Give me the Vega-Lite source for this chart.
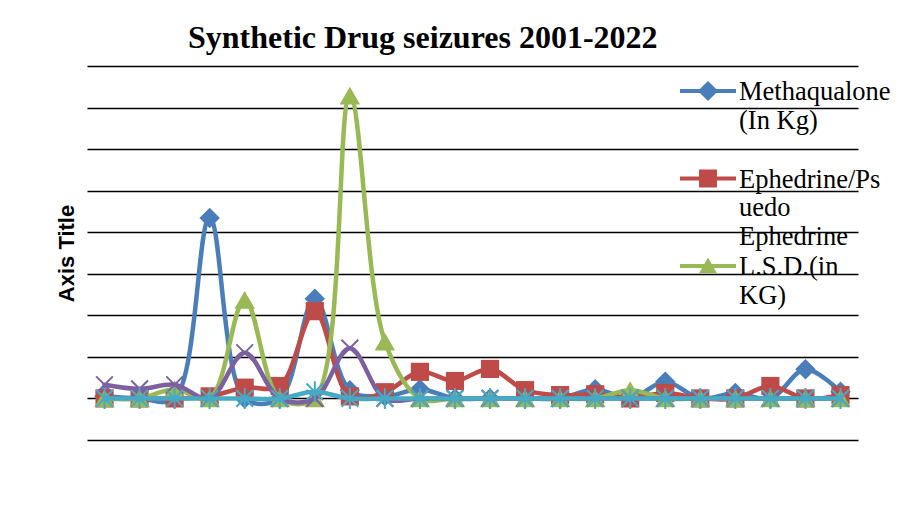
{
  "$schema": "https://vega.github.io/schema/vega-lite/v6.json",
  "width": 771,
  "height": 374,
  "autosize": {"type": "none"},
  "padding": {"left": 87, "top": 66, "right": 43, "bottom": 77},
  "background": "white",
  "title": {
    "text": "Synthetic Drug seizures 2001-2022",
    "font": "Liberation Serif",
    "fontSize": 32,
    "fontWeight": "bold",
    "color": "#000",
    "anchor": "start",
    "frame": "group",
    "dx": 101,
    "baseline": "alphabetic",
    "offset": -14
  },
  "data": {
    "values": [
      {"year": 2001, "series": "Methaqualone (In Kg)", "value": 0.05},
      {"year": 2002, "series": "Methaqualone (In Kg)", "value": 0},
      {"year": 2003, "series": "Methaqualone (In Kg)", "value": 0},
      {"year": 2004, "series": "Methaqualone (In Kg)", "value": 4.34},
      {"year": 2005, "series": "Methaqualone (In Kg)", "value": 0},
      {"year": 2006, "series": "Methaqualone (In Kg)", "value": 0},
      {"year": 2007, "series": "Methaqualone (In Kg)", "value": 2.4},
      {"year": 2008, "series": "Methaqualone (In Kg)", "value": 0.2},
      {"year": 2009, "series": "Methaqualone (In Kg)", "value": 0.05},
      {"year": 2010, "series": "Methaqualone (In Kg)", "value": 0.22},
      {"year": 2011, "series": "Methaqualone (In Kg)", "value": 0},
      {"year": 2012, "series": "Methaqualone (In Kg)", "value": 0},
      {"year": 2013, "series": "Methaqualone (In Kg)", "value": 0},
      {"year": 2014, "series": "Methaqualone (In Kg)", "value": 0},
      {"year": 2015, "series": "Methaqualone (In Kg)", "value": 0.22},
      {"year": 2016, "series": "Methaqualone (In Kg)", "value": 0},
      {"year": 2017, "series": "Methaqualone (In Kg)", "value": 0.4},
      {"year": 2018, "series": "Methaqualone (In Kg)", "value": 0},
      {"year": 2019, "series": "Methaqualone (In Kg)", "value": 0.13},
      {"year": 2020, "series": "Methaqualone (In Kg)", "value": 0},
      {"year": 2021, "series": "Methaqualone (In Kg)", "value": 0.7},
      {"year": 2022, "series": "Methaqualone (In Kg)", "value": 0.16},
      {"year": 2001, "series": "Ephedrine/Pseudo Ephedrine", "value": 0},
      {"year": 2002, "series": "Ephedrine/Pseudo Ephedrine", "value": 0},
      {"year": 2003, "series": "Ephedrine/Pseudo Ephedrine", "value": 0},
      {"year": 2004, "series": "Ephedrine/Pseudo Ephedrine", "value": 0.05},
      {"year": 2005, "series": "Ephedrine/Pseudo Ephedrine", "value": 0.26},
      {"year": 2006, "series": "Ephedrine/Pseudo Ephedrine", "value": 0.3},
      {"year": 2007, "series": "Ephedrine/Pseudo Ephedrine", "value": 2.1},
      {"year": 2008, "series": "Ephedrine/Pseudo Ephedrine", "value": 0.05},
      {"year": 2009, "series": "Ephedrine/Pseudo Ephedrine", "value": 0.15},
      {"year": 2010, "series": "Ephedrine/Pseudo Ephedrine", "value": 0.64},
      {"year": 2011, "series": "Ephedrine/Pseudo Ephedrine", "value": 0.42},
      {"year": 2012, "series": "Ephedrine/Pseudo Ephedrine", "value": 0.71},
      {"year": 2013, "series": "Ephedrine/Pseudo Ephedrine", "value": 0.2},
      {"year": 2014, "series": "Ephedrine/Pseudo Ephedrine", "value": 0.08},
      {"year": 2015, "series": "Ephedrine/Pseudo Ephedrine", "value": 0.1},
      {"year": 2016, "series": "Ephedrine/Pseudo Ephedrine", "value": 0},
      {"year": 2017, "series": "Ephedrine/Pseudo Ephedrine", "value": 0.13},
      {"year": 2018, "series": "Ephedrine/Pseudo Ephedrine", "value": 0},
      {"year": 2019, "series": "Ephedrine/Pseudo Ephedrine", "value": 0},
      {"year": 2020, "series": "Ephedrine/Pseudo Ephedrine", "value": 0.3},
      {"year": 2021, "series": "Ephedrine/Pseudo Ephedrine", "value": 0},
      {"year": 2022, "series": "Ephedrine/Pseudo Ephedrine", "value": 0.08},
      {"year": 2001, "series": "L.S.D.(in KG)", "value": 0},
      {"year": 2002, "series": "L.S.D.(in KG)", "value": 0},
      {"year": 2003, "series": "L.S.D.(in KG)", "value": 0.22},
      {"year": 2004, "series": "L.S.D.(in KG)", "value": 0},
      {"year": 2005, "series": "L.S.D.(in KG)", "value": 2.37},
      {"year": 2006, "series": "L.S.D.(in KG)", "value": 0},
      {"year": 2007, "series": "L.S.D.(in KG)", "value": 0},
      {"year": 2008, "series": "L.S.D.(in KG)", "value": 7.29},
      {"year": 2009, "series": "L.S.D.(in KG)", "value": 1.37},
      {"year": 2010, "series": "L.S.D.(in KG)", "value": 0},
      {"year": 2011, "series": "L.S.D.(in KG)", "value": 0},
      {"year": 2012, "series": "L.S.D.(in KG)", "value": 0},
      {"year": 2013, "series": "L.S.D.(in KG)", "value": 0},
      {"year": 2014, "series": "L.S.D.(in KG)", "value": 0},
      {"year": 2015, "series": "L.S.D.(in KG)", "value": 0},
      {"year": 2016, "series": "L.S.D.(in KG)", "value": 0.2},
      {"year": 2017, "series": "L.S.D.(in KG)", "value": 0},
      {"year": 2018, "series": "L.S.D.(in KG)", "value": 0},
      {"year": 2019, "series": "L.S.D.(in KG)", "value": 0},
      {"year": 2020, "series": "L.S.D.(in KG)", "value": 0},
      {"year": 2021, "series": "L.S.D.(in KG)", "value": 0},
      {"year": 2022, "series": "L.S.D.(in KG)", "value": 0},
      {"year": 2001, "series": "Amphetamine", "value": 0.33},
      {"year": 2002, "series": "Amphetamine", "value": 0.23},
      {"year": 2003, "series": "Amphetamine", "value": 0.33},
      {"year": 2004, "series": "Amphetamine", "value": 0},
      {"year": 2005, "series": "Amphetamine", "value": 1.1},
      {"year": 2006, "series": "Amphetamine", "value": 0},
      {"year": 2007, "series": "Amphetamine", "value": 0},
      {"year": 2008, "series": "Amphetamine", "value": 1.21},
      {"year": 2009, "series": "Amphetamine", "value": 0},
      {"year": 2010, "series": "Amphetamine", "value": 0},
      {"year": 2011, "series": "Amphetamine", "value": 0},
      {"year": 2012, "series": "Amphetamine", "value": 0},
      {"year": 2013, "series": "Amphetamine", "value": 0},
      {"year": 2014, "series": "Amphetamine", "value": 0},
      {"year": 2015, "series": "Amphetamine", "value": 0},
      {"year": 2016, "series": "Amphetamine", "value": 0},
      {"year": 2017, "series": "Amphetamine", "value": 0},
      {"year": 2018, "series": "Amphetamine", "value": 0},
      {"year": 2019, "series": "Amphetamine", "value": 0},
      {"year": 2020, "series": "Amphetamine", "value": 0},
      {"year": 2021, "series": "Amphetamine", "value": 0},
      {"year": 2022, "series": "Amphetamine", "value": 0},
      {"year": 2001, "series": "MDMA", "value": 0},
      {"year": 2002, "series": "MDMA", "value": 0},
      {"year": 2003, "series": "MDMA", "value": 0},
      {"year": 2004, "series": "MDMA", "value": 0},
      {"year": 2005, "series": "MDMA", "value": 0},
      {"year": 2006, "series": "MDMA", "value": 0},
      {"year": 2007, "series": "MDMA", "value": 0.16},
      {"year": 2008, "series": "MDMA", "value": 0},
      {"year": 2009, "series": "MDMA", "value": 0},
      {"year": 2010, "series": "MDMA", "value": 0},
      {"year": 2011, "series": "MDMA", "value": 0},
      {"year": 2012, "series": "MDMA", "value": 0},
      {"year": 2013, "series": "MDMA", "value": 0},
      {"year": 2014, "series": "MDMA", "value": 0},
      {"year": 2015, "series": "MDMA", "value": 0},
      {"year": 2016, "series": "MDMA", "value": 0},
      {"year": 2017, "series": "MDMA", "value": 0},
      {"year": 2018, "series": "MDMA", "value": 0},
      {"year": 2019, "series": "MDMA", "value": 0},
      {"year": 2020, "series": "MDMA", "value": 0},
      {"year": 2021, "series": "MDMA", "value": 0},
      {"year": 2022, "series": "MDMA", "value": 0}
    ]
  },
  "encoding": {
    "x": {"field": "year", "type": "ordinal", "scale": {"type": "point", "padding": 0.5}, "axis": null},
    "y": {
      "field": "value",
      "type": "quantitative",
      "scale": {"domain": [-1, 8], "nice": false, "zero": false},
      "axis": {
        "values": [-1, 0, 1, 2, 3, 4, 5, 6, 7, 8],
        "labels": false,
        "ticks": false,
        "domain": false,
        "grid": true,
        "gridColor": "#000000",
        "gridWidth": 1.6,
        "gridOpacity": 1,
        "title": "Axis Title",
        "titleFont": "Liberation Sans",
        "titleFontSize": 22,
        "titleFontWeight": "bold",
        "titleColor": "#000000",
        "titlePadding": 9
      }
    },
    "color": {
      "field": "series",
      "type": "nominal",
      "scale": {
        "domain": ["Methaqualone (In Kg)", "Ephedrine/Pseudo Ephedrine", "L.S.D.(in KG)", "Amphetamine", "MDMA"],
        "range": ["#4A7EBB", "#BE4B48", "#98B954", "#7D60A0", "#46AAC5"]
      },
      "legend": {
        "title": null,
        "orient": "none",
        "legendX": 593,
        "legendY": 13,
        "values": ["Methaqualone (In Kg)", "Ephedrine/Pseudo Ephedrine", "L.S.D.(in KG)"],
        "padding": 0,
        "rowPadding": 3.5,
        "gridAlign": "all",
        "symbolSize": 3136,
        "symbolOffset": 0,
        "labelOffset": 3,
        "labelFont": "Liberation Serif",
        "labelFontSize": 26.5,
        "labelLineHeight": 29.2,
        "labelColor": "#000000",
        "labelLimit": 400,
        "labelBaseline": "top",
        "labelExpr": "datum.value === 'Methaqualone (In Kg)' ? ['Methaqualone','(In Kg)'] : datum.value === 'Ephedrine/Pseudo Ephedrine' ? ['Ephedrine/Ps','uedo','Ephedrine'] : ['\u00a0L.S.D.(in','KG)']",
        "encode": {
          "labels": {
            "update": {
              "y": {"value": 0}
            }
          },
          "symbols": {
            "update": {
              "y": {"value": 12},
              "shape": {"signal": "datum.value === 'Methaqualone (In Kg)' ? 'M-1,-0.072H-0.29L0,-0.36L0.29,-0.072H1V0.072H0.29L0,0.36L-0.29,0.072H-1Z' : datum.value === 'Ephedrine/Pseudo Ephedrine' ? 'M-1,-0.072H-0.32V-0.32H0.32V-0.072H1V0.072H0.32V0.32H-0.32V0.072H-1Z' : 'M-1,-0.072H-0.13L0,-0.3L0.13,-0.072H1V0.072H0.21L0.32,0.26H-0.32L-0.21,0.072H-1Z'"},
              "fill": {"scale": "color", "field": "value"},
              "stroke": {"value": "transparent"},
              "strokeWidth": {"value": 0},
              "opacity": {"value": 1}
            }
          }
        }
      }
    }
  },
  "layer": [
    {
      "transform": [{"filter": "datum.series === 'Methaqualone (In Kg)'"}],
      "layer": [
        {"mark": {"type": "line", "interpolate": "catmull-rom", "strokeWidth": 4.5, "strokeJoin": "round", "strokeCap": "round"}},
        {"mark": {"type": "point", "shape": "diamond", "filled": true, "size": 420, "opacity": 1, "strokeWidth": 0}}
      ]
    },
    {
      "transform": [{"filter": "datum.series === 'Ephedrine/Pseudo Ephedrine'"}],
      "layer": [
        {"mark": {"type": "line", "interpolate": "catmull-rom", "strokeWidth": 4.5, "strokeJoin": "round", "strokeCap": "round"}},
        {"mark": {"type": "point", "shape": "square", "filled": true, "size": 330, "opacity": 1, "strokeWidth": 0}}
      ]
    },
    {
      "transform": [{"filter": "datum.series === 'L.S.D.(in KG)'"}],
      "layer": [
        {"mark": {"type": "line", "interpolate": "catmull-rom", "strokeWidth": 4.5, "strokeJoin": "round", "strokeCap": "round"}},
        {"mark": {"type": "point", "shape": "triangle-up", "filled": true, "size": 420, "opacity": 1, "strokeWidth": 0}}
      ]
    },
    {
      "transform": [{"filter": "datum.series === 'Amphetamine'"}],
      "layer": [
        {"mark": {"type": "line", "interpolate": "catmull-rom", "strokeWidth": 4.5, "strokeJoin": "round", "strokeCap": "round"}},
        {"mark": {"type": "point", "shape": "M-1,-1L1,1M1,-1L-1,1", "filled": false, "size": 280, "opacity": 1, "strokeWidth": 2}}
      ]
    },
    {
      "transform": [{"filter": "datum.series === 'MDMA'"}],
      "layer": [
        {"mark": {"type": "line", "interpolate": "catmull-rom", "strokeWidth": 4.5, "strokeJoin": "round", "strokeCap": "round"}},
        {"mark": {"type": "point", "shape": "M-1,-1L1,1M1,-1L-1,1M0,-1.25V1.25", "filled": false, "size": 280, "opacity": 1, "strokeWidth": 2}}
      ]
    }
  ],
  "config": {
    "view": {"stroke": null}
  }
}
